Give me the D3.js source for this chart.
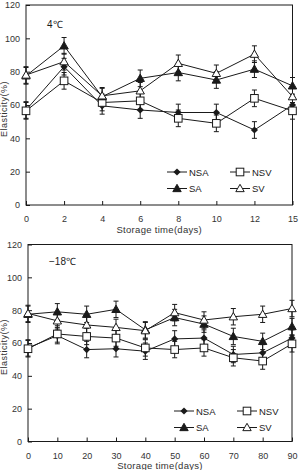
<!DOCTYPE html>
<html>
<head>
<meta charset="utf-8">
<script src="https://cdn.jsdelivr.net/npm/d3@7"></script>
<style>
  html, body { margin: 0; padding: 0; background: #fff; }
  svg { display: block; font-family: "Liberation Sans Narrow", "Liberation Sans", Arial, sans-serif; }
</style>
</head>
<body>
<div id="chart"></div>
<script>
// ---- data ----
const series = ["NSA", "NSV", "SA", "SV"];
const yTicks = [0, 20, 40, 60, 80, 100, 120];

// 4 °C panel
const days4 = ["0", "2", "4", "6", "8", "10", "12", "15"];
const nsa4 = [57, 83, 59.5, 57, 55.5, 55.5, 45, 60];
const nsv4 = [56.5, 74.5, 61.5, 62.5, 52, 49, 64, 56.5];
const sa4  = [77.5, 95.5, 65, 76, 79.5, 75, 81.5, 71.5];
const sv4  = [78, 86, 65.5, 68.5, 85, 79, 90.5, 65];
const err4 = [5, 5, 5, 5, 5, 5, 5, 5];

// -18 °C panel
const days18 = ["0", "10", "20", "30", "40", "50", "60", "70", "80", "90"];
const nsa18 = [57, 64.5, 56, 56.5, 55, 62.5, 63, 53, 54, 63];
const nsv18 = [56.5, 65.5, 64, 63, 57, 56, 57, 51, 49, 59.5];
const sa18  = [77.5, 79, 77.5, 80.5, 68, 75.5, 71.5, 64, 61, 70];
const sv18  = [78, 73.5, 71, 69.5, 67.5, 78.5, 74, 76, 77.5, 81];
const err18 = [5, 5, 5, 5, 5, 5, 5, 5, 5, 5];

const W = 299, H = 470;
const svg = d3.select("#chart").append("svg").attr("width", W).attr("height", H);

const INK = "#1a1a1a";

function marker(g, name, x, y) {
  const s = 3.6;
  if (name === "NSA") {
    g.append("path").attr("d", `M${x},${y - s}L${x + s},${y}L${x},${y + s}L${x - s},${y}Z`)
      .attr("fill", INK);
  } else if (name === "NSV") {
    g.append("rect").attr("x", x - 3.8).attr("y", y - 3.8).attr("width", 7.6).attr("height", 7.6)
      .attr("fill", "#fff").attr("stroke", INK).attr("stroke-width", 1);
  } else {
    const t = 4.2;
    g.append("path").attr("d", `M${x},${y - t}L${x + t},${y + t * 0.75}L${x - t},${y + t * 0.75}Z`)
      .attr("fill", name === "SA" ? INK : "#fff").attr("stroke", INK).attr("stroke-width", 1);
  }
}

function panel(cfg) {
  const g = svg.append("g");
  const x = d3.scalePoint().domain(cfg.days).range([cfg.x0, cfg.x1]);
  const y = d3.scaleLinear().domain([0, 120]).range([cfg.y0, cfg.y1]);

  // frame
  g.append("rect").attr("x", cfg.x0).attr("y", cfg.y1)
    .attr("width", cfg.x1 - cfg.x0).attr("height", cfg.y0 - cfg.y1)
    .attr("fill", "none").attr("stroke", INK).attr("stroke-width", 1);

  // axes
  const ax = g.append("g").attr("transform", `translate(0,${cfg.y0})`)
    .call(d3.axisBottom(x).tickSizeInner(-4).tickSizeOuter(0).tickPadding(11));
  const ay = g.append("g").attr("transform", `translate(${cfg.x0},0)`)
    .call(d3.axisLeft(y).tickValues(yTicks).tickSizeInner(-4).tickSizeOuter(0).tickPadding(6));
  [ax, ay].forEach(a => {
    a.select(".domain").remove();
    a.selectAll("line").attr("stroke", INK);
    a.selectAll("text").attr("fill", "#333").style("font-size", "9px");
  });

  g.append("text").attr("x", (cfg.x0 + cfg.x1) / 2).attr("y", cfg.y0 + 27.5)
    .attr("text-anchor", "middle").style("font-size", "9.5px").attr("fill", "#333")
    .style("letter-spacing", "0.3px")
    .text("Storage time(days)");
  g.append("text").attr("transform", `translate(7,${(cfg.y0 + cfg.y1) / 2 + 4}) rotate(-90)`)
    .attr("text-anchor", "middle").style("font-size", "9px").attr("fill", "#333")
    .style("letter-spacing", "0.5px")
    .text("Elasticity(%)");
  g.append("text").attr("x", cfg.labX).attr("y", cfg.labY)
    .style("font-size", "10px").attr("fill", INK).text(cfg.label);

  const line = d3.line().x((d, i) => x(cfg.days[i])).y(d => y(d));
  const vals = [cfg.nsa, cfg.nsv, cfg.sa, cfg.sv];

  // lines
  vals.forEach(v => {
    g.append("path").datum(v).attr("d", line)
      .attr("fill", "none").attr("stroke", INK).attr("stroke-width", 1);
  });
  // error bars
  vals.forEach(v => {
    v.forEach((d, i) => {
      const cx = x(cfg.days[i]), e = cfg.err[i];
      g.append("line").attr("x1", cx).attr("x2", cx).attr("y1", y(d - e)).attr("y2", y(d + e))
        .attr("stroke", INK).attr("stroke-width", 1);
      [d - e, d + e].forEach(t => g.append("line")
        .attr("x1", cx - 2.5).attr("x2", cx + 2.5).attr("y1", y(t)).attr("y2", y(t))
        .attr("stroke", INK).attr("stroke-width", 1));
    });
  });
  // markers
  series.forEach((name, k) => {
    vals[k].forEach((d, i) => marker(g, name, x(cfg.days[i]), y(d)));
  });

  // legend
  const lx = [cfg.legX, cfg.legX + 63];
  const ly = [cfg.legY, cfg.legY + 16.5];
  series.forEach((name, k) => {
    const cx = lx[k % 2], cy = ly[Math.floor(k / 2)];
    g.append("line").attr("x1", cx - 10).attr("x2", cx + 10).attr("y1", cy).attr("y2", cy)
      .attr("stroke", INK).attr("stroke-width", 1);
    marker(g, name, cx, cy);
    g.append("text").attr("x", cx + 12).attr("y", cy + 3.5)
      .style("font-size", "9.5px").attr("fill", INK).text(name);
  });
}

panel({
  days: days4, nsa: nsa4, nsv: nsv4, sa: sa4, sv: sv4, err: err4,
  x0: 26, x1: 292.5, y0: 205, y1: 5,
  label: "4\u2103", labX: 47, labY: 28,
  legX: 177, legY: 172
});

panel({
  days: days18, nsa: nsa18, nsv: nsv18, sa: sa18, sv: sv18, err: err18,
  x0: 28, x1: 292, y0: 441.5, y1: 244.5,
  label: "\u221218\u2103", labX: 49, labY: 265,
  legX: 184, legY: 411
});
</script>
</body>
</html>
